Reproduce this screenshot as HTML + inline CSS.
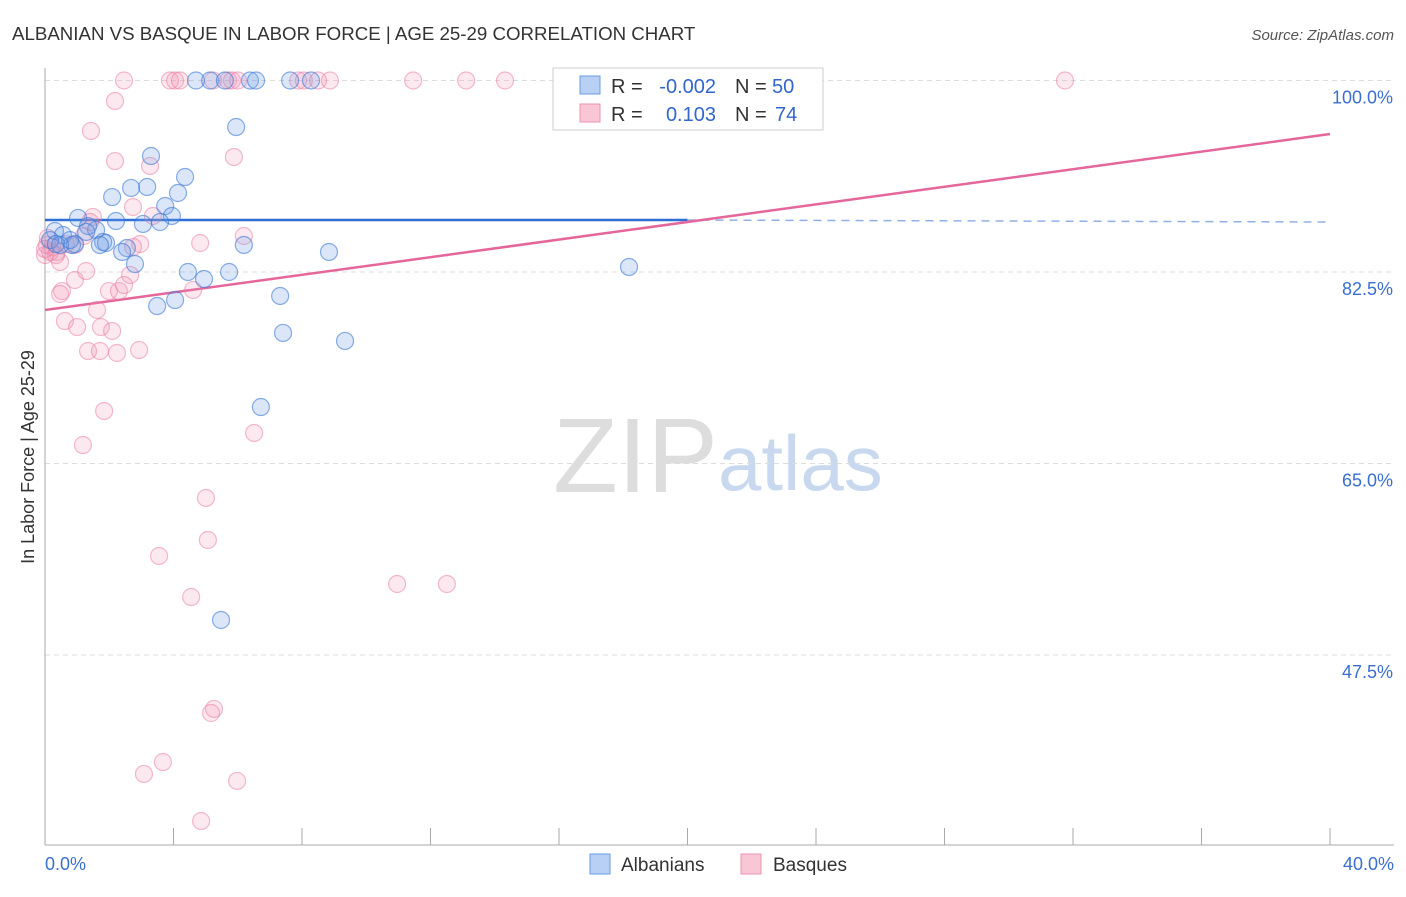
<!DOCTYPE html>
<html><head><meta charset="utf-8"><style>
body{margin:0;background:#fff;font-family:"Liberation Sans",sans-serif;}
svg text{font-family:"Liberation Sans",sans-serif;}
</style></head><body>
<svg id="chart" width="1406" height="892" xmlns="http://www.w3.org/2000/svg">
<text x="12" y="40" font-size="18.7" fill="#333">ALBANIAN VS BASQUE IN LABOR FORCE | AGE 25-29 CORRELATION CHART</text>
<text x="1394" y="40" font-size="15" fill="#555" text-anchor="end" font-style="italic">Source: ZipAtlas.com</text>
<text x="553" y="492" font-size="106" fill="#ddd" font-family="Liberation Serif,serif">ZIP</text>
<text x="718" y="490" font-size="78" fill="#c8d8ee">atlas</text>
<g id="grid"></g><g id="axes"></g><g id="lines"></g><g id="pts"></g>
<text transform="translate(34,457) rotate(-90)" font-size="18" fill="#333" text-anchor="middle">In Labor Force | Age 25-29</text>
<g font-size="20">
<rect x="553" y="68" width="270" height="62" fill="#fff" stroke="#ccc"/>
<rect x="580" y="76" width="20" height="18" fill="#b8d0f4" stroke="#6a9ce0"/>
<rect x="580" y="104" width="20" height="18" fill="#f9c6d6" stroke="#eb93b0"/>
<text x="611" y="93" fill="#333">R =</text>
<text x="716" y="93" fill="#3366cc" text-anchor="end">-0.002</text>
<text x="735" y="93" fill="#333">N =</text>
<text x="772" y="93" fill="#3366cc">50</text>
<text x="611" y="121" fill="#333">R =</text>
<text x="716" y="121" fill="#3366cc" text-anchor="end">0.103</text>
<text x="735" y="121" fill="#333">N =</text>
<text x="775" y="121" fill="#3366cc">74</text>
</g>
<g>
<rect x="590" y="854" width="20" height="20" fill="#b8d0f4" stroke="#6a9ce0"/>
<text x="621" y="871" font-size="19" fill="#333">Albanians</text>
<rect x="741" y="854" width="20" height="20" fill="#f9c6d6" stroke="#eb93b0"/>
<text x="773" y="871" font-size="19" fill="#333">Basques</text>
</g>
</svg>
<script>
const blueX=[4.70,5.14,5.60,6.38,6.57,7.63,8.28,5.95,3.30,4.36,2.09,2.68,3.18,4.14,3.74,3.95,3.58,3.05,2.21,1.03,1.59,0.31,0.56,0.16,0.93,0.84,1.81,1.90,2.55,2.40,2.80,4.45,4.95,5.73,6.19,8.84,18.18,7.32,3.49,4.05,7.41,9.34,6.72,5.48,1.34,1.28,0.47,0.34,0.78,1.71];
const blueY=[100,100,100,100,100,100,100,95.75,93.1,91.18,89.35,90.18,90.27,89.72,88.53,87.62,87.07,86.89,87.16,87.44,86.34,86.25,85.88,85.42,85.06,84.97,85.24,85.15,84.69,84.33,83.23,82.5,81.86,82.5,84.97,84.33,82.96,80.31,79.39,79.94,76.93,76.2,70.16,50.7,86.7,86.16,84.97,85.06,85.42,84.97];
const pinkX=[2.46,3.89,4.05,4.20,5.23,5.70,5.82,6.01,7.88,8.06,8.50,8.87,11.46,13.11,14.32,31.75,2.18,1.43,2.18,3.27,5.88,2.74,1.49,3.36,1.40,1.21,0.09,0.22,0.37,0,0.47,2.96,2.74,4.83,6.19,0.93,1.28,2.65,0.53,0.47,1.99,2.30,2.46,4.61,0.62,1.00,1.74,2.09,1.62,1.34,1.71,2.24,2.93,1.84,1.18,6.51,5.01,5.07,3.55,4.55,10.96,12.51,5.26,5.17,3.67,3.08,5.98,4.86,0.93,0.16,0.65,0.06,0.34,0];
const pinkY=[100,100,100,100,100,100,100,100,100,100,100,100,100,100,100,100,98.13,95.39,92.64,92.19,93.01,88.44,87.53,87.62,87.07,85.79,85.61,84.79,84.33,84.05,83.41,85.06,84.79,85.15,85.79,81.77,82.59,82.23,80.76,80.49,80.76,80.76,81.31,80.86,78.02,77.47,77.47,77.11,79.03,75.28,75.28,75.1,75.37,69.8,66.69,67.79,61.85,58.01,56.55,52.8,53.99,53.99,42.57,42.2,37.72,36.63,35.99,32.33,84.97,84.33,85.06,84.97,84.05,84.6];
const yTicks=[100,82.5,65,47.5];
const yTickLabels=["100.0%","82.5%","65.0%","47.5%"];
const xTicks=[0,4,8,12,16,20,24,28,32,36,40];
const blueTrend=[87.25,87.25];
const pinkTrend=[79.03,95.11];

const NS="http://www.w3.org/2000/svg";
const sx=v=>45+v/40*1285;
const sy=v=>80.5+(100-v)/17.5*191.5;
function mk(parent,tag,attrs){const e=document.createElementNS(NS,tag);for(const k in attrs)e.setAttribute(k,attrs[k]);document.getElementById(parent).appendChild(e);return e;}
yTicks.forEach((t,i)=>{
  const l=mk('grid','line',{x1:45,x2:1394,y1:sy(t),y2:sy(t),stroke:'#ddd','stroke-dasharray':'5,4'});
  
  
  const tx=mk('grid','text',{x:1393,y:sy(t)+23,'font-size':18,fill:'#3a6fd0','text-anchor':'end'});
  tx.textContent=yTickLabels[i];
  
  
});
const ax=mk('axes','line',{x1:45,x2:45,y1:68,y2:845,stroke:'#aaa'});


const bx=mk('axes','line',{x1:45,x2:1394,y1:845,y2:845,stroke:'#aaa'});


xTicks.forEach(t=>{
  const l=mk('axes','line',{x1:sx(t),x2:sx(t),y1:828,y2:845,stroke:'#aaa'});
  
  
});
const xl0=mk('axes','text',{x:45,y:870,'font-size':18,fill:'#3a6fd0'});xl0.textContent=xTicks[0].toFixed(1)+'%';


const xl1=mk('axes','text',{x:1394,y:870,'font-size':18,fill:'#3a6fd0','text-anchor':'end'});xl1.textContent=xTicks[xTicks.length-1].toFixed(1)+'%';


function dots(X,Y,fill,stroke,name){X.forEach((x,i)=>{
  const c=mk('pts','circle',{cx:sx(x),cy:sy(Y[i]),r:8.5,fill:fill,stroke:stroke,'stroke-width':1.2});
  
  
});}
dots(pinkX,pinkY,'rgba(243,150,180,0.22)','rgba(232,120,160,0.5)','basque-point');
dots(blueX,blueY,'rgba(110,160,230,0.25)','rgba(60,120,210,0.6)','albanian-point');
const b1=mk('lines','line',{x1:sx(0),x2:sx(20),y1:sy(blueTrend[0]),y2:sy(blueTrend[0]+(blueTrend[1]-blueTrend[0])/2),stroke:'#2e6fd6','stroke-width':2.5});


const b2=mk('lines','line',{x1:sx(20),x2:sx(40),y1:sy(blueTrend[0]+(blueTrend[1]-blueTrend[0])/2),y2:sy(blueTrend[1])+2,stroke:'#8fb0e6','stroke-width':1.5,'stroke-dasharray':'8,6'});


const p1=mk('lines','line',{x1:sx(0),x2:sx(40),y1:sy(pinkTrend[0]),y2:sy(pinkTrend[1]),stroke:'#e5669a','stroke-width':2.5});


</script>
</body></html>
